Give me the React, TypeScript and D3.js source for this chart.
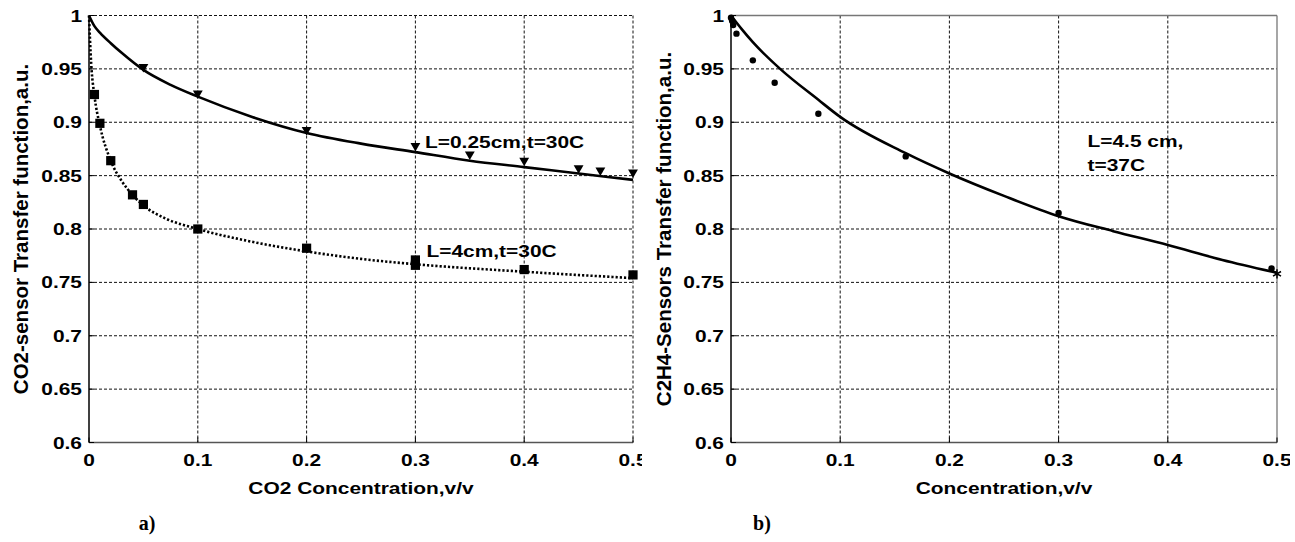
import React from 'react';
import * as d3 from 'd3';

// ---------- shared axis ticks ----------
const X_TICKS = [0, 0.1, 0.2, 0.3, 0.4, 0.5];
const X_TICK_LABELS = ['0', '0.1', '0.2', '0.3', '0.4', '0.5'];
const Y_TICKS = [0.6, 0.65, 0.7, 0.75, 0.8, 0.85, 0.9, 0.95, 1];
const Y_TICK_LABELS = ['0.6', '0.65', '0.7', '0.75', '0.8', '0.85', '0.9', '0.95', '1'];

// ---------- panel a) CO2 sensor ----------
const A_FIT_SHORT_X = [0, 0.005, 0.01, 0.02, 0.03, 0.05, 0.075, 0.1, 0.15, 0.2, 0.25, 0.3, 0.35, 0.4, 0.45, 0.5];
const A_FIT_SHORT_Y = [1, 0.99, 0.984, 0.974, 0.965, 0.949, 0.935, 0.924, 0.905, 0.89, 0.88, 0.872, 0.864, 0.858, 0.852, 0.846];
const A_DATA_SHORT_X = [0.05, 0.1, 0.2, 0.3, 0.35, 0.4, 0.45, 0.47, 0.5];
const A_DATA_SHORT_Y = [0.952, 0.927, 0.893, 0.878, 0.87, 0.864, 0.857, 0.855, 0.853];

const A_FIT_LONG_X = [0, 0.002, 0.005, 0.01, 0.02, 0.03, 0.04, 0.05, 0.07, 0.1, 0.15, 0.2, 0.25, 0.3, 0.4, 0.5];
const A_FIT_LONG_Y = [1, 0.955, 0.925, 0.897, 0.864, 0.845, 0.832, 0.822, 0.81, 0.8, 0.788, 0.779, 0.772, 0.767, 0.76, 0.754];
const A_DATA_LONG_X = [0.005, 0.01, 0.02, 0.04, 0.05, 0.1, 0.2, 0.3, 0.3, 0.4, 0.5];
const A_DATA_LONG_Y = [0.926, 0.899, 0.864, 0.832, 0.823, 0.8, 0.782, 0.771, 0.766, 0.762, 0.757];

// ---------- panel b) C2H4 sensor ----------
const B_FIT_X = [0, 0.01, 0.02, 0.045, 0.08, 0.1, 0.16, 0.2, 0.25, 0.3, 0.35, 0.4, 0.45, 0.5];
const B_FIT_Y = [1, 0.987, 0.975, 0.95, 0.921, 0.905, 0.871, 0.852, 0.831, 0.812, 0.798, 0.785, 0.771, 0.759];
const B_DATA_X = [0, 0.001, 0.002, 0.005, 0.02, 0.04, 0.08, 0.16, 0.3, 0.495];
const B_DATA_Y = [0.998, 0.995, 0.991, 0.983, 0.958, 0.937, 0.908, 0.868, 0.815, 0.763];
const B_STAR_X = [0.5];
const B_STAR_Y = [0.758];

const FONT = '"Liberation Sans", Arial, Helvetica, sans-serif';
const SX = 1.23;

const zip = (xs: number[], ys: number[]) => xs.map((x, i) => [x, ys[i]] as [number, number]);

function HText(props: { x: number; y: number; anchor?: string; size?: number; children: React.ReactNode }) {
  const { x, y, anchor = 'start', size = 17, children } = props;
  return (
    <text
      transform={`translate(${x},${y}) scale(${SX},1)`}
      textAnchor={anchor}
      fontFamily={FONT}
      fontWeight="bold"
      fontSize={size}
      fill="#000"
    >
      {children}
    </text>
  );
}

type PanelProps = {
  left: number;
  right: number;
  top: number;
  bottom: number;
  box: boolean;
  yTitle: string;
  xTitle: string;
  yTitleX: number;
  children: (x: d3.ScaleLinear<number, number>, y: d3.ScaleLinear<number, number>) => React.ReactNode;
};

function Panel(p: PanelProps) {
  const x = d3.scaleLinear().domain([0, 0.5]).range([p.left, p.right]);
  const y = d3.scaleLinear().domain([0.6, 1]).range([p.bottom, p.top]);
  const gx = X_TICKS.filter((t) => t > 0 && (!p.box || t < 0.5));
  const gy = Y_TICKS.filter((t) => t > 0.6 && (!p.box || t < 1));
  const cy = (p.top + p.bottom) / 2;
  return (
    <g>
      {/* grid */}
      {gx.map((t) => (
        <line key={'gx' + t} x1={x(t)} x2={x(t)} y1={p.top} y2={p.bottom} stroke="#111" strokeWidth={1} strokeDasharray="3,2" />
      ))}
      {gy.map((t) => (
        <line key={'gy' + t} x1={p.left} x2={p.right} y1={y(t)} y2={y(t)} stroke="#111" strokeWidth={1} strokeDasharray="3,2" />
      ))}
      {p.box && (
        <g>
          <line x1={p.left} x2={p.right} y1={p.top} y2={p.top} stroke="#777" strokeWidth={1.3} />
          <line x1={p.right} x2={p.right} y1={p.top} y2={p.bottom} stroke="#777" strokeWidth={1.3} />
        </g>
      )}
      {/* axes */}
      <line x1={p.left} x2={p.right} y1={p.bottom} y2={p.bottom} stroke="#555" strokeWidth={1.5} />
      <line x1={p.left} x2={p.left} y1={p.top} y2={p.bottom} stroke="#000" strokeWidth={1.5} />
      {Y_TICKS.map((t) => (
        <line key={'ty' + t} x1={p.left} x2={p.left + 5} y1={y(t)} y2={y(t)} stroke="#000" strokeWidth={1} />
      ))}
      {X_TICKS.map((t) => (
        <line key={'tx' + t} x1={x(t)} x2={x(t)} y1={p.bottom} y2={p.bottom - 5} stroke="#000" strokeWidth={1} />
      ))}
      {Y_TICKS.map((t, i) => (
        <HText key={'ly' + t} x={p.left - 7} y={y(t) + 6} anchor="end">
          {Y_TICK_LABELS[i]}
        </HText>
      ))}
      {X_TICKS.map((t, i) => (
        <HText key={'lx' + t} x={x(t)} y={p.bottom + 23} anchor="middle">
          {X_TICK_LABELS[i]}
        </HText>
      ))}
      <HText x={(p.left + p.right) / 2} y={p.bottom + 51} anchor="middle">
        {p.xTitle}
      </HText>
      <text
        transform={`translate(${p.yTitleX},${cy}) rotate(-90)`}
        textAnchor="middle"
        dominantBaseline="central"
        fontFamily={FONT}
        fontWeight="bold"
        fontSize={20.5}
      >
        {p.yTitle}
      </text>
      {p.children(x, y)}
    </g>
  );
}

export default function App() {
  const W = 1295;
  const H = 542;
  const top = 15.5;
  const bottom = 442.5;

  const triPath = d3.symbol(d3.symbolTriangle, 42)() as string;
  const sqPath = d3.symbol(d3.symbolSquare, 85)() as string;
  const starPath = d3.symbol(d3.symbolAsterisk, 60)() as string;

  return (
    <svg width={W} height={H} style={{ position: 'absolute', left: 0, top: 0, background: '#fff' }}>
      <defs>
        <clipPath id="clipA">
          <rect x={0} y={0} width={642} height={H} />
        </clipPath>
        <clipPath id="clipB">
          <rect x={642} y={0} width={1290 - 642} height={H} />
        </clipPath>
      </defs>
      <rect x={0} y={0} width={W} height={H} fill="#fff" />

      <g clipPath="url(#clipA)">
        <Panel
          left={89}
          right={633}
          top={top}
          bottom={bottom}
          box={false}
          xTitle="CO2 Concentration,v/v"
          yTitle="CO2-sensor Transfer function,a.u."
          yTitleX={20.5}
        >
          {(x, y) => {
            const line = d3
              .line<[number, number]>()
              .x((d) => x(d[0]))
              .y((d) => y(d[1]))
              .curve(d3.curveMonotoneX);
            return (
              <g>
                <path d={line(zip(A_FIT_SHORT_X, A_FIT_SHORT_Y)) as string} fill="none" stroke="#000" strokeWidth={2.6} />
                <path
                  d={line(zip(A_FIT_LONG_X, A_FIT_LONG_Y)) as string}
                  fill="none"
                  stroke="#000"
                  strokeWidth={2.6}
                  strokeDasharray="2.2,2"
                />
                {zip(A_DATA_SHORT_X, A_DATA_SHORT_Y).map((d, i) => (
                  <path key={'t' + i} d={triPath} transform={`translate(${x(d[0])},${y(d[1])}) rotate(180)`} fill="#000" />
                ))}
                {zip(A_DATA_LONG_X, A_DATA_LONG_Y).map((d, i) => (
                  <path key={'s' + i} d={sqPath} transform={`translate(${x(d[0])},${y(d[1])})`} fill="#000" />
                ))}
                <HText x={425} y={148}>L=0.25cm,t=30C</HText>
                <HText x={426.5} y={256.5}>L=4cm,t=30C</HText>
              </g>
            );
          }}
        </Panel>
        <text x={147} y={530} textAnchor="middle" fontFamily='"Liberation Serif", "Times New Roman", serif' fontWeight="bold" fontSize={20}>
          a)
        </text>
      </g>

      <g clipPath="url(#clipB)">
        <Panel
          left={731}
          right={1277}
          top={top}
          bottom={bottom}
          box={true}
          xTitle="Concentration,v/v"
          yTitle="C2H4-Sensors Transfer function,a.u."
          yTitleX={663.5}
        >
          {(x, y) => {
            const line = d3
              .line<[number, number]>()
              .x((d) => x(d[0]))
              .y((d) => y(d[1]))
              .curve(d3.curveMonotoneX);
            return (
              <g>
                <path d={line(zip(B_FIT_X, B_FIT_Y)) as string} fill="none" stroke="#000" strokeWidth={2.6} />
                {zip(B_DATA_X, B_DATA_Y).map((d, i) => (
                  <circle key={'c' + i} cx={x(d[0])} cy={y(d[1])} r={3.2} fill="#000" />
                ))}
                {zip(B_STAR_X, B_STAR_Y).map((d, i) => (
                  <path key={'a' + i} d={starPath} transform={`translate(${x(d[0])},${y(d[1])})`} fill="none" stroke="#000" strokeWidth={1.5} />
                ))}
                <HText x={1087.5} y={146.5}>L=4.5 cm,</HText>
                <HText x={1087.5} y={170.5}>t=37C</HText>
              </g>
            );
          }}
        </Panel>
        <text x={762} y={530} textAnchor="middle" fontFamily='"Liberation Serif", "Times New Roman", serif' fontWeight="bold" fontSize={20}>
          b)
        </text>
      </g>
    </svg>
  );
}
